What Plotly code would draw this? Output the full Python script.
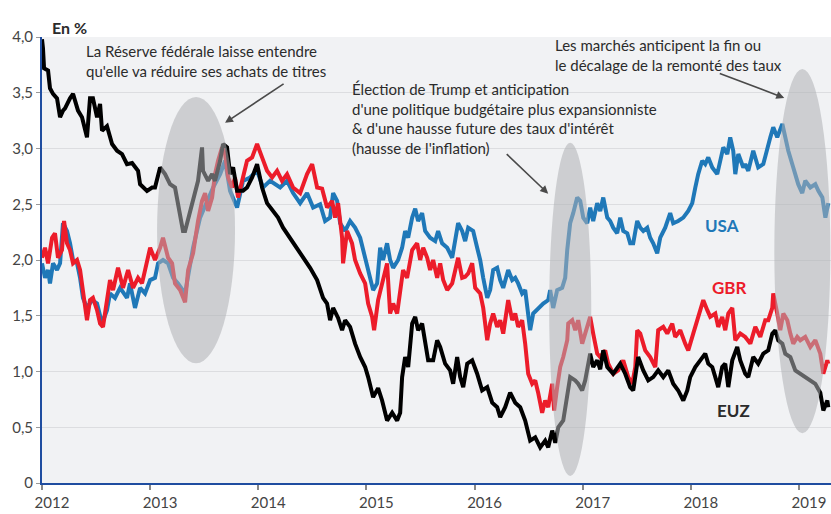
import plotly.graph_objects as go

# ---- data (decimal years, % yield) ----
usa_t = [2012.000,2012.028,2012.056,2012.074,2012.102,2012.139,2012.167,2012.194,2012.231,2012.259,2012.287,2012.324,2012.352,2012.379,2012.416,2012.463,2012.509,2012.555,2012.601,2012.629,2012.675,2012.722,2012.786,2012.814,2012.860,2012.907,2012.953,
         2013.000,2013.045,2013.073,2013.119,2013.166,2013.212,2013.258,2013.323,2013.397,2013.462,2013.526,2013.582,2013.647,2013.693,2013.739,2013.804,2013.859,2013.924,2013.989,
         2014.044,2014.109,2014.202,2014.266,2014.322,2014.387,2014.451,2014.507,2014.572,2014.618,2014.664,2014.692,2014.729,2014.757,2014.803,2014.849,2014.895,2014.942,2014.970,
         2015.006,2015.034,2015.062,2015.099,2015.127,2015.154,2015.191,2015.219,2015.247,2015.293,2015.330,2015.358,2015.386,2015.423,2015.451,2015.478,2015.515,2015.543,2015.589,2015.636,2015.663,2015.700,2015.747,2015.793,2015.821,2015.848,2015.885,2015.913,2015.941,2015.987,
         2016.024,2016.052,2016.080,2016.117,2016.144,2016.172,2016.209,2016.237,2016.265,2016.311,2016.348,2016.376,2016.403,2016.440,2016.468,2016.496,2016.514,2016.542,2016.588,2016.635,2016.681,2016.699,2016.727,2016.764,2016.810,2016.838,2016.857,2016.884,2016.912,2016.949,2016.977,
         2017.005,2017.042,2017.069,2017.097,2017.134,2017.162,2017.190,2017.227,2017.254,2017.282,2017.319,2017.347,2017.375,2017.412,2017.439,2017.467,2017.504,2017.532,2017.560,2017.597,2017.624,2017.652,2017.689,2017.717,2017.763,2017.809,2017.837,2017.883,2017.930,2017.976,
         2018.013,2018.041,2018.068,2018.105,2018.133,2018.161,2018.198,2018.244,2018.272,2018.300,2018.337,2018.364,2018.392,2018.411,2018.439,2018.485,2018.503,2018.531,2018.577,2018.623,2018.670,2018.707,2018.735,2018.762,2018.799,2018.846,2018.873,2018.901,2018.947,2018.993,
         2019.030,2019.058,2019.105,2019.151,2019.179,2019.216,2019.244,2019.271]
usa_v = [1.97,1.84,1.91,1.79,1.97,1.91,1.97,2.33,2.26,2.15,2.00,1.97,1.84,1.66,1.57,1.64,1.61,1.43,1.55,1.70,1.66,1.75,1.66,1.79,1.57,1.75,1.70,
         1.82,1.84,1.97,2.00,1.97,1.84,1.79,1.70,2.11,2.38,2.53,2.65,2.77,2.89,2.62,2.47,2.71,2.74,2.80,
         2.65,2.71,2.65,2.71,2.60,2.51,2.60,2.47,2.50,2.35,2.38,2.60,2.53,2.33,2.26,2.35,2.29,2.20,2.09,
         1.97,1.84,1.73,1.79,2.11,2.00,2.15,2.00,1.93,2.00,2.11,2.26,2.20,2.38,2.46,2.35,2.42,2.26,2.20,2.17,2.26,2.15,2.11,2.02,2.20,2.33,2.26,2.17,2.29,2.26,
         2.11,2.00,1.84,1.66,1.73,1.91,1.93,1.82,1.75,1.91,1.82,1.84,1.79,1.70,1.73,1.52,1.37,1.52,1.57,1.61,1.64,1.73,1.57,1.73,1.75,1.84,2.09,2.33,2.42,2.56,2.53,
         2.38,2.33,2.47,2.35,2.51,2.44,2.56,2.38,2.35,2.29,2.24,2.38,2.26,2.24,2.15,2.15,2.35,2.29,2.26,2.29,2.20,2.15,2.06,2.20,2.29,2.42,2.33,2.35,2.38,2.44,
         2.51,2.65,2.77,2.89,2.86,2.92,2.83,2.77,2.89,3.01,2.95,3.10,2.98,2.77,2.95,2.83,2.86,2.80,2.98,2.83,2.86,3.01,3.10,3.19,3.10,3.22,3.10,2.98,2.83,2.68,
         2.60,2.71,2.65,2.68,2.62,2.56,2.38,2.51]

gbr_t = [2012.000,2012.028,2012.056,2012.093,2012.120,2012.148,2012.185,2012.204,2012.231,2012.259,2012.287,2012.324,2012.352,2012.379,2012.416,2012.444,2012.471,2012.509,2012.537,2012.564,2012.601,2012.629,2012.657,2012.703,2012.749,2012.796,2012.842,2012.888,2012.925,2012.971,
         2013.000,2013.045,2013.092,2013.119,2013.166,2013.203,2013.230,2013.277,2013.323,2013.351,2013.397,2013.443,2013.480,2013.508,2013.536,2013.573,2013.600,2013.628,2013.665,2013.693,2013.721,2013.758,2013.785,2013.813,2013.859,2013.896,2013.943,2013.970,2013.989,
         2014.035,2014.081,2014.128,2014.174,2014.220,2014.266,2014.322,2014.387,2014.451,2014.498,2014.544,2014.590,2014.636,2014.683,2014.710,2014.738,2014.775,2014.784,2014.821,2014.867,2014.895,2014.942,2014.988,
         2015.016,2015.053,2015.071,2015.108,2015.154,2015.191,2015.219,2015.247,2015.284,2015.312,2015.339,2015.376,2015.423,2015.469,2015.497,2015.525,2015.562,2015.589,2015.617,2015.654,2015.682,2015.710,2015.747,2015.793,2015.821,2015.848,2015.885,2015.913,2015.941,2015.978,
         2016.006,2016.052,2016.080,2016.117,2016.144,2016.172,2016.209,2016.237,2016.265,2016.311,2016.348,2016.376,2016.403,2016.440,2016.468,2016.496,2016.533,2016.561,2016.588,2016.625,2016.653,2016.681,2016.718,2016.736,2016.764,2016.792,2016.820,2016.857,2016.866,2016.903,2016.931,2016.958,2016.995,
         2017.023,2017.069,2017.097,2017.134,2017.162,2017.208,2017.236,2017.282,2017.328,2017.375,2017.421,2017.458,2017.486,2017.504,2017.532,2017.578,2017.624,2017.671,2017.698,2017.745,2017.782,2017.828,2017.855,2017.902,2017.948,2017.976,
         2018.022,2018.059,2018.087,2018.115,2018.152,2018.179,2018.226,2018.253,2018.290,2018.318,2018.346,2018.383,2018.411,2018.457,2018.503,2018.550,2018.596,2018.642,2018.688,2018.716,2018.753,2018.762,2018.799,2018.827,2018.855,2018.892,2018.920,2018.947,2018.984,
         2019.012,2019.058,2019.105,2019.151,2019.197,2019.225,2019.262,2019.271]
gbr_v = [2.02,2.11,1.97,2.20,2.24,2.02,2.09,2.35,2.15,2.09,1.97,2.00,1.91,1.70,1.46,1.64,1.66,1.55,1.43,1.40,1.66,1.82,1.73,1.93,1.75,1.91,1.75,1.84,1.79,1.97,
         2.11,2.00,2.11,2.20,2.02,1.97,1.79,1.73,1.62,1.91,2.06,2.35,2.53,2.60,2.44,2.56,2.77,2.89,3.01,2.95,2.74,2.65,2.74,2.56,2.74,2.89,2.92,2.98,3.04,
         2.92,2.80,2.74,2.80,2.71,2.77,2.65,2.60,2.77,2.86,2.65,2.64,2.47,2.53,2.38,2.51,2.20,1.97,2.26,2.15,2.00,1.88,1.79,
         1.61,1.49,1.37,1.64,1.84,1.97,1.52,1.61,1.52,1.73,1.91,1.84,2.09,2.15,2.00,2.11,2.02,1.91,2.00,1.84,1.97,1.82,1.73,1.79,1.93,2.02,1.84,1.85,1.88,1.97,
         1.75,1.70,1.57,1.28,1.43,1.52,1.40,1.46,1.34,1.64,1.46,1.52,1.40,1.46,1.25,0.98,0.89,0.92,0.81,0.63,0.74,0.68,0.89,0.65,0.86,1.04,1.13,1.28,1.43,1.46,1.37,1.46,1.25,
         1.34,1.49,1.34,1.16,1.13,1.19,1.07,0.98,1.01,1.10,0.95,0.89,1.04,1.37,1.34,1.19,1.13,1.04,1.37,1.40,1.34,1.43,1.31,1.37,1.25,1.19,
         1.34,1.46,1.57,1.64,1.55,1.49,1.52,1.40,1.49,1.37,1.52,1.57,1.28,1.34,1.31,1.25,1.40,1.31,1.46,1.46,1.57,1.70,1.52,1.37,1.52,1.46,1.34,1.25,1.31,
         1.28,1.31,1.22,1.28,1.16,0.98,1.10,1.07]

euz_t = [2012.000,2012.009,2012.019,2012.056,2012.074,2012.102,2012.139,2012.167,2012.194,2012.213,2012.259,2012.287,2012.333,2012.370,2012.416,2012.444,2012.471,2012.509,2012.537,2012.555,2012.601,2012.648,2012.694,2012.740,2012.786,2012.833,2012.888,2012.907,2012.971,
         2013.018,2013.045,2013.092,2013.138,2013.184,2013.230,2013.258,2013.304,2013.323,2013.397,2013.443,2013.480,2013.489,2013.536,2013.573,2013.600,2013.647,2013.674,2013.711,2013.739,2013.767,2013.804,2013.859,2013.896,2013.943,2013.989,
         2014.035,2014.081,2014.137,2014.183,2014.229,2014.294,2014.359,2014.414,2014.479,2014.544,2014.599,2014.636,2014.664,2014.692,2014.738,2014.775,2014.803,2014.849,2014.895,2014.942,2014.988,
         2015.016,2015.062,2015.108,2015.145,2015.191,2015.238,2015.284,2015.312,2015.330,2015.358,2015.386,2015.423,2015.451,2015.478,2015.515,2015.543,2015.571,2015.617,2015.654,2015.682,2015.728,2015.774,2015.802,2015.839,2015.867,2015.895,2015.932,2015.978,
         2016.024,2016.070,2016.117,2016.163,2016.209,2016.237,2016.283,2016.329,2016.376,2016.422,2016.468,2016.514,2016.561,2016.607,2016.653,2016.681,2016.718,2016.746,2016.774,2016.820,2016.857,2016.884,2016.931,2016.958,2016.995,
         2017.023,2017.069,2017.097,2017.134,2017.162,2017.190,2017.227,2017.282,2017.347,2017.393,2017.439,2017.467,2017.513,2017.560,2017.606,2017.652,2017.698,2017.745,2017.791,2017.837,2017.883,2017.930,2017.967,2017.994,
         2018.041,2018.087,2018.133,2018.161,2018.198,2018.226,2018.253,2018.290,2018.318,2018.346,2018.383,2018.429,2018.457,2018.503,2018.531,2018.577,2018.623,2018.670,2018.716,2018.753,2018.781,2018.808,2018.846,2018.873,2018.920,2018.966,
         2019.012,2019.058,2019.105,2019.151,2019.197,2019.225,2019.262,2019.271]
euz_v = [3.98,3.90,3.72,3.70,3.54,3.49,3.45,3.28,3.34,3.36,3.45,3.49,3.34,3.28,3.10,3.45,3.45,3.28,3.40,3.16,3.20,3.04,2.98,2.95,2.86,2.87,2.80,2.68,2.62,
         2.65,2.65,2.83,2.77,2.68,2.65,2.50,2.26,2.26,2.56,2.71,3.01,2.80,2.71,2.77,2.71,2.89,3.04,3.01,2.77,2.83,2.62,2.62,2.65,2.74,2.86,
         2.65,2.51,2.44,2.38,2.29,2.20,2.11,2.02,1.93,1.82,1.66,1.61,1.46,1.57,1.48,1.37,1.46,1.40,1.25,1.13,1.04,
         0.95,0.77,0.85,0.74,0.56,0.63,0.56,0.63,0.95,1.13,1.04,1.43,1.49,1.37,1.43,1.25,1.10,1.10,1.28,1.22,1.07,1.01,0.89,1.13,0.95,0.86,1.07,1.10,
         0.98,0.83,0.86,0.72,0.68,0.59,0.68,0.81,0.72,0.68,0.56,0.38,0.41,0.32,0.38,0.32,0.47,0.36,0.50,0.56,0.77,0.95,0.92,0.89,0.83,
         0.92,1.16,1.04,1.10,1.02,1.19,1.04,0.98,1.07,0.98,0.86,0.83,1.13,1.01,0.92,0.95,1.01,0.95,1.01,0.89,0.83,0.74,0.83,0.95,
         1.04,1.10,1.16,1.07,1.04,0.95,0.86,1.04,1.07,0.86,1.10,1.22,1.10,0.98,0.95,1.13,1.07,1.16,1.19,1.34,1.37,1.28,1.25,1.16,1.13,1.01,
         0.98,0.95,0.92,0.89,0.81,0.65,0.74,0.68]

year_ticks = [2012, 2013, 2014, 2015, 2016, 2017, 2018, 2019]
y_ticks = [0, 0.5, 1.0, 1.5, 2.0, 2.5, 3.0, 3.5, 4.0]
y_ticktext = ["0", "0,5", "1,0", "1,5", "2,0", "2,5", "3,0", "3,5", "4,0"]
Y_MAX = 4.0

# highlighted periods (x0, x1, y0, y1)
highlights = [(2013.064, 2013.785, 1.074, 3.463),
              (2016.690, 2017.079, 0.063, 3.051),
              (2018.772, 2019.290, 0.447, 3.714)]

FONT = "Lato"
fig = go.Figure()
fig.add_trace(go.Scatter(x=usa_t, y=usa_v, mode="lines", name="USA",
                         line=dict(color="#1f78b8", width=4)))
fig.add_trace(go.Scatter(x=gbr_t, y=gbr_v, mode="lines", name="GBR",
                         line=dict(color="#ec1c2a", width=4)))
fig.add_trace(go.Scatter(x=euz_t, y=euz_v, mode="lines", name="EUZ",
                         line=dict(color="#000000", width=4)))

for x0, x1, y0, y1 in highlights:
    fig.add_shape(type="circle", xref="x", yref="y", x0=x0, x1=x1, y0=y0, y1=y1,
                  fillcolor="rgba(175,176,180,0.55)", line=dict(width=0), layer="above")

txt = dict(family=FONT, size=15, color="#2b2b2b")
fig.add_annotation(x=2012.389, y=3.97 / Y_MAX, xref="x", yref="paper", xanchor="left", yanchor="top",
                   align="left", showarrow=False, font=txt,
                   text="La Réserve fédérale laisse entendre<br>qu'elle va réduire ses achats de titres")
fig.add_annotation(x=2014.849, y=3.63 / Y_MAX, xref="x", yref="paper", xanchor="left", yanchor="top",
                   align="left", showarrow=False, font=txt,
                   text="Élection de Trump et anticipation<br>d'une politique budgétaire plus expansionniste<br>& d'une hausse future des taux d'intérêt<br>(hausse de l'inflation)")
fig.add_annotation(x=2016.727, y=4.025 / Y_MAX, xref="x", yref="paper", xanchor="left", yanchor="top",
                   align="left", showarrow=False, font=txt,
                   text="Les marchés anticipent la fin ou<br>le décalage de la remonté des taux")

arrow = dict(showarrow=True, arrowhead=2, arrowsize=1, arrowwidth=1.6, arrowcolor="#4a4a4a",
             text="", xref="x", yref="y", axref="pixel", ayref="pixel")
fig.add_annotation(x=2013.693, y=3.23, ax=60, ay=-40, **arrow)
fig.add_annotation(x=2016.681, y=2.595, ax=-43, ay=-41, **arrow)
fig.add_annotation(x=2018.864, y=3.454, ax=-66, ay=-25, **arrow)

lab = dict(family=FONT, size=17)
fig.add_annotation(x=2018.29, y=2.31, text="<b>USA</b>", showarrow=False, font=dict(color="#1f78b8", **lab))
fig.add_annotation(x=2018.355, y=1.75, text="<b>GBR</b>", showarrow=False, font=dict(color="#ec1c2a", **lab))
fig.add_annotation(x=2018.392, y=0.65, text="<b>EUZ</b>", showarrow=False, font=dict(color="#2b2b2b", **lab))
fig.add_annotation(x=0.010, y=4.19 / Y_MAX, xref="paper", yref="paper", xanchor="left", text="<b>En %</b>",
                   showarrow=False, font=dict(family=FONT, size=16, color="#2b2b2b"))

fig.update_layout(
    width=831, height=514,
    margin=dict(l=42, r=0, t=37, b=31, autoexpand=False),
    paper_bgcolor="#ffffff", plot_bgcolor="#f1f2f4",
    showlegend=False,
    font=dict(family=FONT, size=15, color="#444444"),
)
fig.update_xaxes(range=[2012, 2019.296], tickvals=year_ticks, ticktext=[str(y) for y in year_ticks],
                 showgrid=False, zeroline=False, showline=True, linecolor="#1f4da0", linewidth=2,
                 ticks="outside", ticklen=5, tickcolor="#888888", tickwidth=1.5, automargin=False,
                 ticklabelshift=10, ticklabelstandoff=0, tickfont=dict(size=15, color="#444444"))
fig.update_yaxes(range=[0, Y_MAX], tickvals=y_ticks, ticktext=y_ticktext,
                 showgrid=True, gridcolor="#dcdde0", gridwidth=1, zeroline=False,
                 showline=True, linecolor="#1f4da0", linewidth=2, automargin=False,
                 ticks="outside", ticklen=4, tickcolor="#999999",
                 tickfont=dict(size=15, color="#444444"))

fig.write_html("out.html", config={"displayModeBar": False},
               post_script="document.body.style.margin='0';document.body.style.overflow='hidden';")
